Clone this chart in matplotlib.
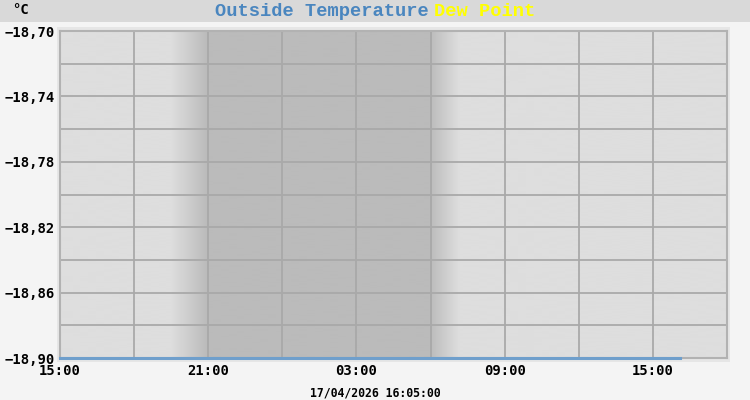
import numpy as np
import matplotlib
matplotlib.use("Agg")
import matplotlib.pyplot as plt
import matplotlib.dates as mdates
from datetime import datetime, timedelta

# ---- data ----
times = ["2026-04-16 15:00", "2026-04-16 21:00", "2026-04-17 03:00",
         "2026-04-17 09:00", "2026-04-17 15:00", "2026-04-17 16:05"]
outside_temp = [-18.90, -18.90, -18.90, -18.90, -18.90, -18.90]
y_ticks = [-18.90, -18.86, -18.82, -18.78, -18.74, -18.70]
x_start = "2026-04-16 15:00"
x_end = "2026-04-17 18:00"
dusk_start, dusk_end = "2026-04-16 19:30", "2026-04-16 20:57"
dawn_start, dawn_end = "2026-04-17 05:58", "2026-04-17 07:10"
timestamp = "17/04/2026 16:05:00"

fmt = "%Y-%m-%d %H:%M"
P = lambda s: datetime.strptime(s, fmt)
t = [P(s) for s in times]

fig = plt.figure(figsize=(7.5, 4), dpi=100, facecolor="#f4f4f4")
# header band
fig.patches.append(plt.Rectangle((0, 1 - 22/400), 1, 22/400, transform=fig.transFigure,
                                 facecolor="#d9d9d9", edgecolor="none", zorder=-2))
# light frame around plot
fig.patches.append(plt.Rectangle((57/750, (400-362)/400), 673/750, 335/400,
                                 transform=fig.transFigure, facecolor="#e6e6e6",
                                 edgecolor="none", zorder=-2))

ax = fig.add_axes([60/750, (400-358)/400, 667/750, 327/400])
ax.set_zorder(2)
ax.set_facecolor("#dedede")

x0, x1 = mdates.date2num(P(x_start)), mdates.date2num(P(x_end))

# day/night shading
xs = np.linspace(x0, x1, 2000)
ds, de = mdates.date2num(P(dusk_start)), mdates.date2num(P(dusk_end))
ws, we = mdates.date2num(P(dawn_start)), mdates.date2num(P(dawn_end))
f = np.zeros_like(xs)
f = np.where((xs >= ds) & (xs < de), (xs - ds) / (de - ds), f)
f = np.where((xs >= de) & (xs < ws), 1.0, f)
f = np.where((xs >= ws) & (xs < we), 1 - (xs - ws) / (we - ws), f)
light = np.array([0xde, 0xde, 0xde]) / 255
dark = np.array([0xbb, 0xbb, 0xbb]) / 255
img = light[None, :] * (1 - f[:, None]) + dark[None, :] * f[:, None]
ax.imshow(img[None, :, :], extent=[x0, x1, -18.90, -18.70], aspect="auto",
          interpolation="bilinear", zorder=0)

# grid
for h in range(0, 28, 3):
    ax.axvline(mdates.date2num(P(x_start) + timedelta(hours=h)), color="#a9a9a9", lw=1.3, zorder=1)
for k in range(1, 10):
    ax.axhline(-18.90 + 0.02 * k, color="#a9a9a9", lw=1.3, zorder=1)

ax.plot(mdates.date2num(t), outside_temp, color="#6f9fcc", lw=2.2, zorder=3, clip_on=False)
ax.set_xlim(x0, x1)
ax.set_ylim(-18.90, -18.70)

for s in ["top", "right", "left", "bottom"]:
    ax.spines[s].set_color("#b2b2b2")
    ax.spines[s].set_linewidth(1.5)

mono = "DejaVu Sans Mono"
ax.set_yticks(y_ticks)
ax.set_yticklabels([f"{v:.2f}".replace("-", "\u2212").replace(".", ",") for v in y_ticks],
                   fontfamily=mono, fontweight="bold", fontsize=10)
xt = [P(x_start) + timedelta(hours=h) for h in (0, 6, 12, 18, 24)]
ax.set_xticks(mdates.date2num(xt))
ax.set_xticklabels([d.strftime("%H:%M") for d in xt], fontfamily=mono,
                   fontweight="bold", fontsize=10)
ax.tick_params(length=0, pad=4)
ax.tick_params(axis="x", pad=4)

fig.text(12/750, 1 - 10/400, "°C", fontfamily=mono, fontweight="bold", fontsize=10,
         va="center", ha="left")
fig.text(215/750, 1 - 11/400, "Outside Temperature", fontfamily="Liberation Mono",
         fontweight="bold", fontsize=13.5, color="#4a86bf", va="center", ha="left")
fig.text(434/750, 1 - 11/400, "Dew Point", fontfamily="Liberation Mono",
         fontweight="bold", fontsize=13.5, color="#ffff00", va="center", ha="left")
fig.text(375/750, 1 - 393/400, timestamp, fontfamily=mono, fontweight="bold",
         fontsize=8.3, ha="center", va="center")

fig.savefig("out.png", dpi=100, facecolor=fig.get_facecolor())
